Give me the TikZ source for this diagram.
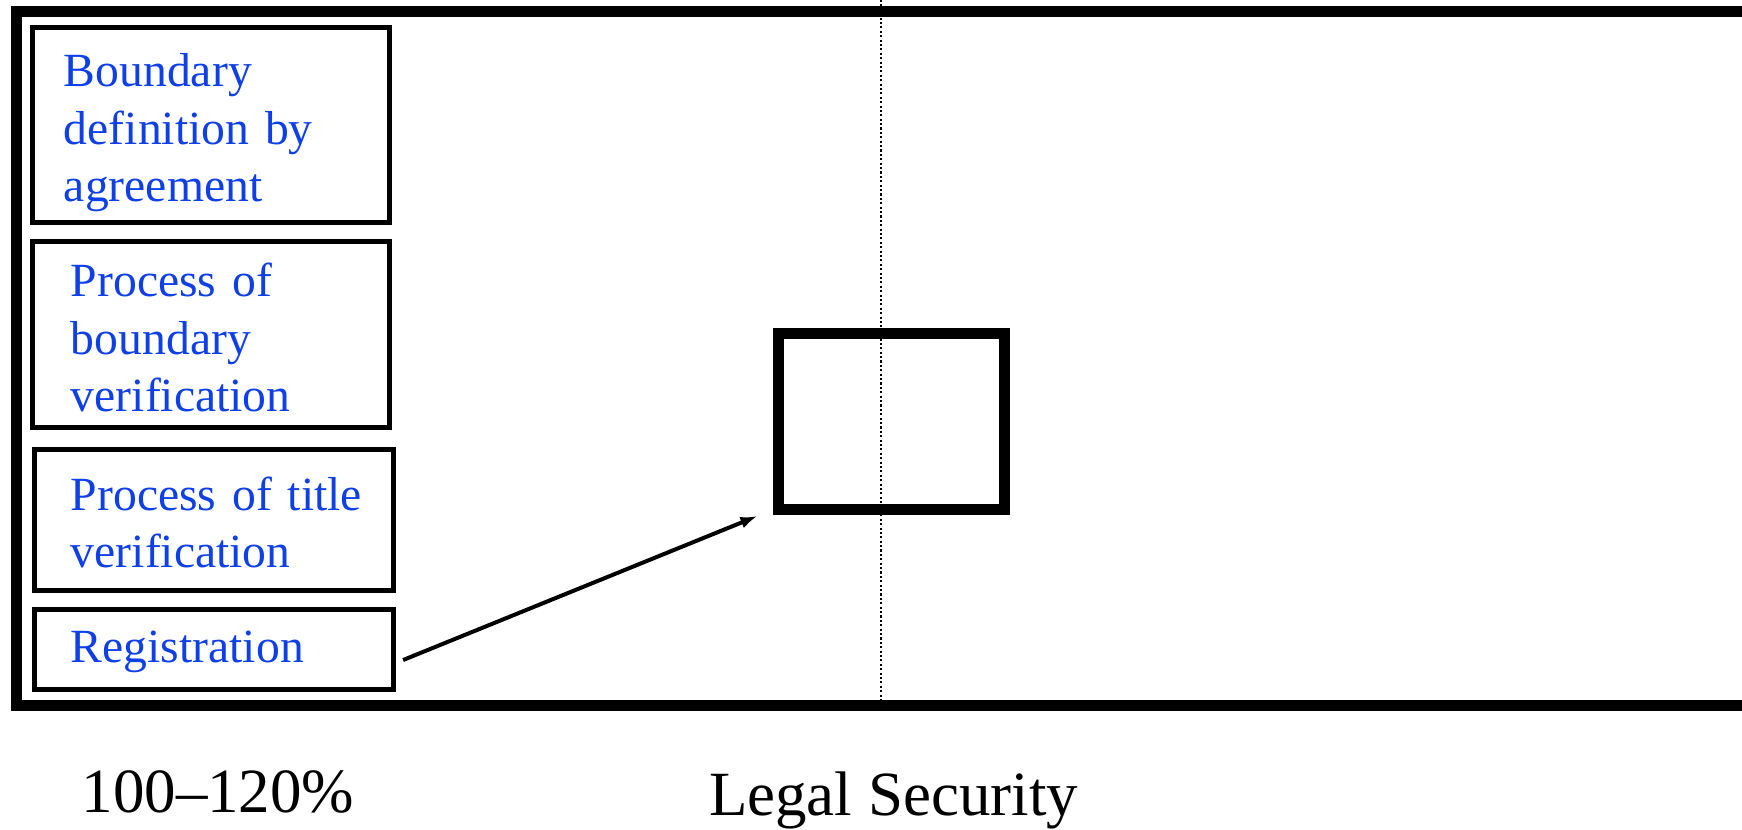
\documentclass[tikz,border=0pt]{standalone}
\usepackage{fontspec}
\setmainfont{Liberation Serif}
\definecolor{mBlue}{HTML}{0F3FE6}
\usetikzlibrary{arrows.meta, positioning}

\begin{document}
\begin{tikzpicture}[x=0.01cm, y=-0.01cm,
  procbox/.style={draw, line width=0.05cm, inner ysep=0pt, align=left,
    text=mBlue, font=\fontsize{13.55pt}{16.22pt}\selectfont},
  axislabel/.style={anchor=base, inner sep=0pt,
    font=\fontsize{17.9pt}{20pt}\selectfont}]
\useasboundingbox (0,0) rectangle (1742,829);

% outer frame, runs off the right edge
\draw[line width=0.11cm] (1742,11.5) -- (16.5,11.5) -- (16.5,705.5) -- (1742,705.5);

% dotted guide line
\coordinate (guidetop) at (881,0);
\coordinate (guidebot) at (881,705.5);
\draw[line width=0.02cm, dash pattern=on 0.6pt off 0.65pt] (guidetop) -- (guidebot);

% steps on the left
\node[procbox, minimum width=3.57cm, minimum height=1.95cm, inner xsep=0.315cm,
      text width=2.94cm, text height=0.3cm, text depth=1.06cm]
  (bdef) at (211,125) {Boundary\\\mbox{definition by}\\agreement};
\node[procbox, minimum width=3.57cm, minimum height=1.86cm, inner xsep=0.385cm,
      text width=2.80cm, text height=0.3cm, text depth=1.05cm]
  (bver) at (211,334.5) {\mbox{Process of}\\boundary\\verification};
\node[procbox, minimum width=3.59cm, minimum height=1.41cm, inner xsep=0.365cm,
      text width=2.86cm, text height=0.3cm, text depth=0.5cm]
  (tver) at (214,520) {\mbox{Process of title}\\verification};
\node[procbox, minimum width=3.59cm, minimum height=0.80cm, inner xsep=0.365cm,
      text width=2.86cm, text height=0.3cm, text depth=0.05cm]
  (reg) at (214,649.5) {Registration};

% target box on the axis
\node[draw, line width=0.11cm, inner sep=0pt, minimum width=2.26cm, minimum height=1.76cm]
  (secure) at (891.5,421.5) {};

\draw[-{Latex[length=0.17cm,width=0.12cm]}, line width=0.04cm]
  ([shift={(7,10.5)}]reg.east) -- ([shift={(-15.5,1)}]secure.south west);

% labels below
\node[axislabel] (pct) at (218,812) {100--120\%};
\node[axislabel] (legal) at (893.5,815) {Legal Security};
\end{tikzpicture}
\end{document}
